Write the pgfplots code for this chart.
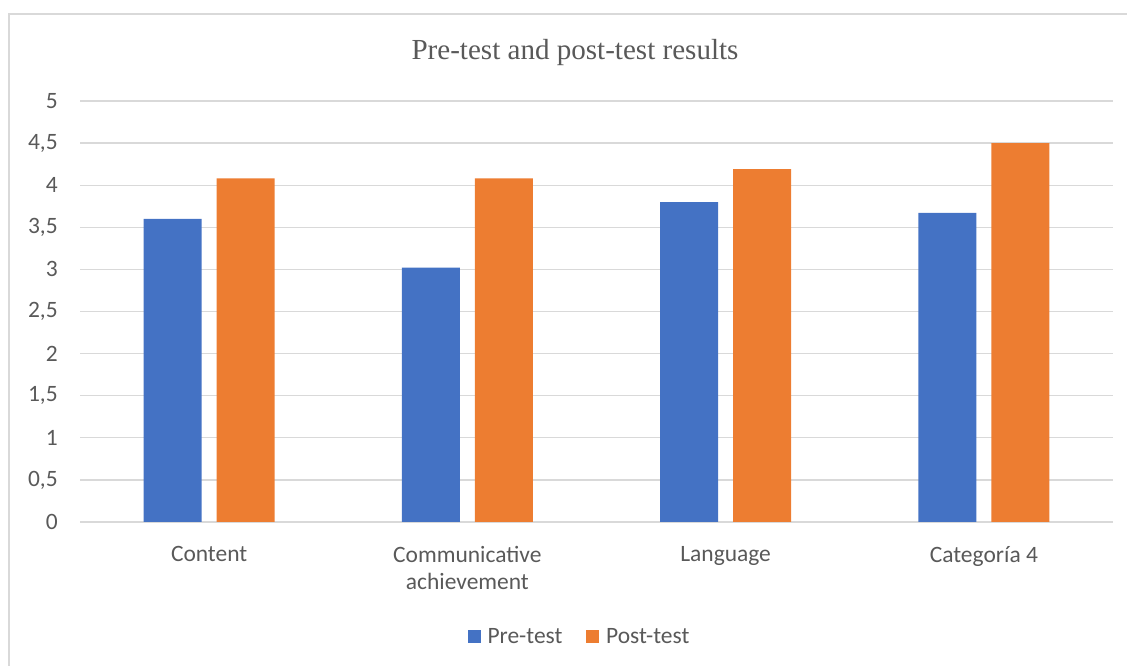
\documentclass[border=0pt]{standalone}
\usepackage{fontspec}
\setmainfont{Carlito}
\newfontfamily\titlefont{Liberation Serif}
\usepackage{pgfplots}
\pgfplotsset{compat=1.18}
\definecolor{pre}{HTML}{4472C4}
\definecolor{post}{HTML}{ED7D31}
\definecolor{gridc}{HTML}{D9D9D9}
\definecolor{txt}{HTML}{595959}
\begin{document}
\begin{tikzpicture}
\begin{scope}[x=0.75pt,y=0.75pt]
\useasboundingbox (0,0) rectangle (1127,666);
\draw[gridc, line width=1.5pt] (9,-5) -- (9,652) -- (1135,652);
\node[font=\titlefont\fontsize{21.8}{26}\selectfont, text=txt] at (575,613) {Pre-test and post-test results};
\end{scope}
\begin{axis}[
  at={(60pt,108pt)}, anchor=south west,
  scale only axis, width=774.75pt, height=315.75pt,
  xmin=-0.5, xmax=3.5, ymin=0, ymax=5,
  ytick={0,0.5,...,5},
  xtick={0,1,2,3},
  xticklabels={Content,{Communicative\\achievement},Language,{Categoría 4}},
  ymajorgrids, grid style={gridc, line width=1pt},
  axis line style={draw=none},
  major tick length=0pt,
  /pgf/number format/assume math mode=true,
  /pgf/number format/use comma,
  /pgf/number format/fixed,
  ticklabel style={font=\fontsize{17.6}{20}\selectfont, text=txt},
  yticklabel style={anchor=east, inner sep=0pt, xshift=-16.5pt},
  xticklabel style={anchor=north, align=center, inner sep=0pt, yshift=-18pt},
  ybar, bar width=43.5pt,
  legend columns=2,
  legend style={at={(0.484,-0.273)}, anchor=center, draw=none, font=\fontsize{17.6}{20}\selectfont, text=txt,
    /tikz/every odd column/.append style={column sep=3pt},
    /tikz/every even column/.append style={column sep=16pt}},
  legend image code/.code={\fill[#1,draw=none] (0pt,-4.875pt) rectangle (9.75pt,4.875pt);},
]
\addplot[fill=pre, draw=none, bar shift=-27.4pt] coordinates {(0,3.60) (1,3.02) (2,3.80) (3,3.67)};
\addplot[fill=post, draw=none, bar shift=27.4pt] coordinates {(0,4.08) (1,4.08) (2,4.19) (3,4.50)};
\legend{Pre-test,Post-test}
\end{axis}
\end{tikzpicture}
\end{document}
